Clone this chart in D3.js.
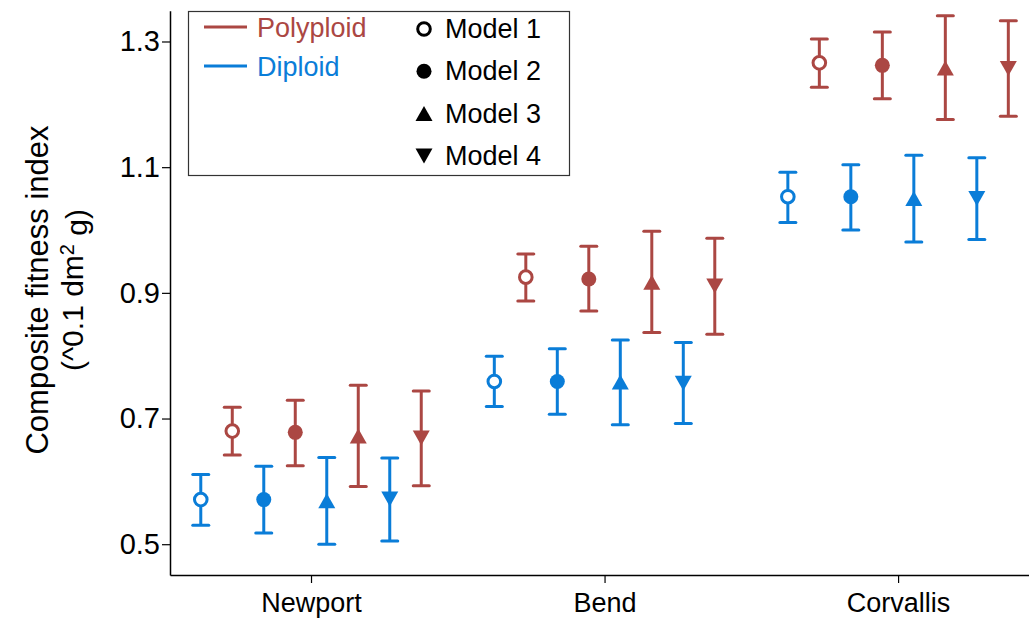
<!DOCTYPE html>
<html>
<head>
<meta charset="utf-8">
<script src="https://cdn.jsdelivr.net/npm/d3@7"></script>
<style>
  body { margin: 0; background: #fff; }
  svg text { font-family: "Liberation Sans", Arial, sans-serif; }
</style>
</head>
<body>
<svg id="chart" width="1029" height="618"></svg>
<script>
var sites = ["Newport", "Bend", "Corvallis"];
var models = ["Model 1", "Model 2", "Model 3", "Model 4"];
var ploidy = ["Polyploid", "Diploid"];
var yTicks = [0.5, 0.7, 0.9, 1.1, 1.3];

// rows = site, columns = model
var polyMean = [[0.680, 0.678, 0.672, 0.669], [0.925, 0.922, 0.917, 0.911], [1.266, 1.262, 1.258, 1.257]];
var polyLow  = [[0.642, 0.625, 0.592, 0.593], [0.887, 0.871, 0.837, 0.834], [1.227, 1.209, 1.176, 1.181]];
var polyHigh = [[0.718, 0.729, 0.753, 0.744], [0.962, 0.974, 0.998, 0.987], [1.304, 1.315, 1.341, 1.333]];
var dipMean  = [[0.571, 0.571, 0.569, 0.572], [0.759, 0.759, 0.758, 0.756], [1.053, 1.053, 1.050, 1.050]];
var dipLow   = [[0.530, 0.518, 0.500, 0.505], [0.719, 0.707, 0.690, 0.692], [1.012, 1.000, 0.981, 0.985]];
var dipHigh  = [[0.611, 0.624, 0.638, 0.637], [0.799, 0.811, 0.825, 0.821], [1.092, 1.104, 1.119, 1.115]];

var colors = { Polyploid: "#ab4743", Diploid: "#0a7dd8" };

var svg = d3.select("#chart");

var x = d3.scaleLinear().domain([0.5196, 3.446]).range([170, 1029]);
var y = d3.scaleLinear().domain([0.451, 1.349]).range([575, 10.7]);
var step = 0.1073; // spacing between neighbouring bars in x units

// flatten into one row per point
var points = [];
sites.forEach(function(s, i) {
  models.forEach(function(m, j) {
    points.push({ site: i, model: j, group: "Diploid", k: 2 * j,
      mean: dipMean[i][j], lo: dipLow[i][j], hi: dipHigh[i][j] });
    points.push({ site: i, model: j, group: "Polyploid", k: 2 * j + 1,
      mean: polyMean[i][j], lo: polyLow[i][j], hi: polyHigh[i][j] });
  });
});
var px = d => x(d.site + 1 + (d.k - 3.5) * step);

// marker shapes, centred on their bounding box
function triPath(w, h, down) {
  var s = down ? -1 : 1;
  return "M0," + (-s * h / 2) + "L" + (w / 2) + "," + (s * h / 2) + "L" + (-w / 2) + "," + (s * h / 2) + "Z";
}
function drawMarker(g, model, color) {
  if (model === 0) {
    g.append("circle").attr("r", 6.3).attr("fill", "#fff")
      .attr("stroke", color).attr("stroke-width", 3);
  } else if (model === 1) {
    g.append("circle").attr("r", 7.5).attr("fill", color);
  } else {
    g.append("path").attr("d", triPath(17, 15, model === 3)).attr("fill", color);
  }
}

// axes
var yAxis = d3.axisLeft(y).tickValues(yTicks).tickFormat(d3.format(".1f")).tickSize(8).tickSizeOuter(0).tickPadding(2);
var xAxis = d3.axisBottom(x).tickValues([1, 2, 3]).tickFormat(d => sites[d - 1]).tickSize(8).tickSizeOuter(0).tickPadding(10);

svg.append("g").attr("class", "yaxis").attr("transform", "translate(170,0)").call(yAxis);
svg.append("g").attr("class", "xaxis").attr("transform", "translate(0,575)").call(xAxis);
svg.selectAll(".domain").attr("stroke", "#000").attr("stroke-width", 1.5);
svg.selectAll(".tick line").attr("stroke", "#000").attr("stroke-width", 1.2);
svg.selectAll(".yaxis .tick text").attr("fill", "#000").style("font-size", "29px");
svg.selectAll(".xaxis .tick text").attr("fill", "#000").style("font-size", "27px");

// y label
var ylab = svg.append("g").attr("transform", "translate(37,290) rotate(-90)");
ylab.append("text").attr("text-anchor", "middle").attr("dy", "0.35em")
  .style("font-size", "31px").text("Composite fitness index");
var l2 = ylab.append("text").attr("text-anchor", "middle").attr("y", 35).attr("dy", "0.35em")
  .style("font-size", "30px");
l2.append("tspan").text("(^0.1 dm");
l2.append("tspan").attr("dy", "-0.45em").style("font-size", "20px").text("2");
l2.append("tspan").attr("dy", "0.45em").text(" g)");

// error bars
var bars = svg.append("g").selectAll("g").data(points).enter().append("g");
bars.append("line")
  .attr("x1", px).attr("x2", px)
  .attr("y1", d => y(d.lo)).attr("y2", d => y(d.hi))
  .attr("stroke", d => colors[d.group]).attr("stroke-width", 3);
["lo", "hi"].forEach(function(key) {
  bars.append("line")
    .attr("x1", d => px(d) - 8).attr("x2", d => px(d) + 8)
    .attr("y1", d => y(d[key])).attr("y2", d => y(d[key]))
    .attr("stroke", d => colors[d.group]).attr("stroke-width", 3)
    .attr("stroke-linecap", "round");
});
bars.each(function(d) {
  var g = d3.select(this).append("g").attr("transform", "translate(" + px(d) + "," + y(d.mean) + ")");
  drawMarker(g, d.model, colors[d.group]);
});

// legend
var legend = svg.append("g");
legend.append("rect").attr("x", 188.5).attr("y", 11.5).attr("width", 381).attr("height", 164)
  .attr("fill", "#fff").attr("stroke", "#333").attr("stroke-width", 1.2);
ploidy.forEach(function(p, i) {
  var yy = 27 + i * 39;
  legend.append("line").attr("x1", 204).attr("x2", 247).attr("y1", yy).attr("y2", yy)
    .attr("stroke", colors[p]).attr("stroke-width", 3);
  legend.append("text").attr("x", 257).attr("y", yy + 10).style("font-size", "27px")
    .attr("fill", colors[p]).text(p);
});
models.forEach(function(m, j) {
  var yy = 28 + j * 42.3;
  var g = legend.append("g").attr("transform", "translate(424," + (yy + 1) + ")");
  drawMarker(g, j, "#000");
  legend.append("text").attr("x", 445).attr("y", yy + 10).style("font-size", "27px")
    .attr("fill", "#000").text(m);
});
</script>
</body>
</html>
